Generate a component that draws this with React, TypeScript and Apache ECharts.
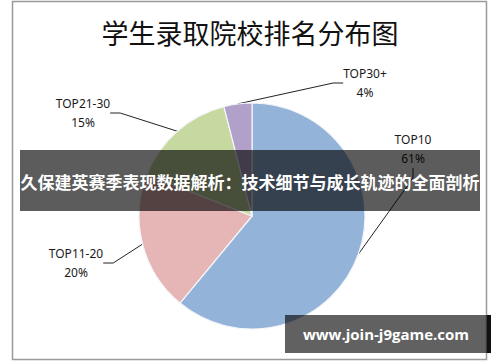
import React, { useEffect, useRef } from "react";
import * as echarts from "echarts";

const titleText = "学生录取院校排名分布图";
const categories = ["TOP10", "TOP11-20", "TOP21-30", "TOP30+"];
const shares = [61, 20, 15, 4];
const colors = ["#94B3D8", "#E5B6B5", "#C6D9A1", "#B1A0C9"];
const bannerText = "久保建英赛季表现数据解析：技术细节与成长轨迹的全面剖析";
const watermarkText = "www.join-j9game.com";

const labelPos: Record<string, [number, number]> = {
  "TOP10": [413, 149],
  "TOP11-20": [76, 263],
  "TOP21-30": [83, 113],
  "TOP30+": [365, 83],
};

export default function App() {
  const ref = useRef<HTMLDivElement>(null);
  useEffect(() => {
    document.body.style.margin = "0";
    const chart = echarts.init(ref.current!, undefined, { renderer: "svg" });
    chart.setOption({
      animation: false,
      backgroundColor: "#ffffff",
      title: {
        text: titleText,
        left: "center",
        top: 14,
        textStyle: {
          fontFamily: "Noto Sans CJK SC",
          fontSize: 27,
          fontWeight: "normal",
          color: "#111",
        },
      },
      series: [
        {
          type: "pie",
          center: [252, 216],
          radius: 113,
          startAngle: 90,
          clockwise: true,
          data: categories.map((c, i) => ({
            name: c,
            value: shares[i],
            itemStyle: { color: colors[i] },
          })),
          itemStyle: { borderColor: "#f4f6fa", borderWidth: 1.2 },
          label: {
            show: true,
            formatter: "{b}\n{c}%",
            fontFamily: "Noto Sans",
            fontSize: 12,
            lineHeight: 19,
            color: "#1a1a1a",
            align: "center",
          },
          labelLine: {
            show: true,
            length: 14,
            length2: 10,
            lineStyle: { color: "#222", width: 1 },
          },
          labelLayout: (p: any) => {
            const pos = labelPos[categories[p.dataIndex]];
            return { x: pos[0], y: pos[1], align: "center", verticalAlign: "middle" };
          },
          emphasis: { disabled: true },
        },
      ],
      graphic: [
        {
          type: "rect",
          z: 100,
          shape: { x: 12.5, y: 1.5, width: 474, height: 358 },
          style: { fill: "none", stroke: "#9a9a9a", lineWidth: 1.5 },
        },
        {
          type: "rect",
          z: 100,
          shape: { x: 20, y: 150, width: 460, height: 61 },
          style: { fill: "rgba(0,0,0,0.64)" },
        },
        {
          type: "text",
          z: 101,
          x: 250,
          y: 181,
          style: {
            text: bannerText,
            fill: "#ffffff",
            fontFamily: "Noto Sans CJK SC",
            fontSize: 17,
            fontWeight: "bold",
            align: "center",
            verticalAlign: "middle",
          },
        },
        {
          type: "rect",
          z: 100,
          shape: { x: 285, y: 315, width: 202, height: 38 },
          style: { fill: "rgba(0,0,0,0.62)" },
        },
        {
          type: "rect",
          z: 100,
          shape: { x: 487, y: 315, width: 4, height: 38 },
          style: { fill: "#111" },
        },
        {
          type: "text",
          z: 101,
          x: 386,
          y: 334,
          style: {
            text: watermarkText,
            fill: "#ffffff",
            fontFamily: "Open Sans",
            fontSize: 15,
            fontWeight: "bold",
            align: "center",
            verticalAlign: "middle",
          },
        },
      ],
    });
    return () => chart.dispose();
  }, []);
  return <div ref={ref} style={{ width: 500, height: 362 }} />;
}
